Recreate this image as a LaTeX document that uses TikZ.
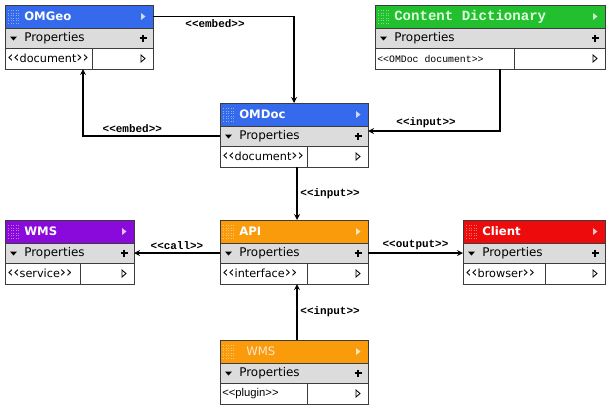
\documentclass[tikz,border=0pt]{standalone}
\usepackage{fontspec}
\setsansfont{DejaVu Sans}
\newfontfamily\monofont{Liberation Mono}
\newfontfamily\plainfont{Liberation Sans}
\usetikzlibrary{calc,arrows}

\definecolor{boxline}{HTML}{3C3C3C}
\definecolor{propgrey}{HTML}{DCDCDC}
\definecolor{omblue}{HTML}{356AEC}
\definecolor{cdgreen}{HTML}{22BF2E}
\definecolor{wmspurple}{HTML}{8A0ADC}
\definecolor{apiorange}{HTML}{F99B0B}
\definecolor{clientred}{HTML}{EE0B0B}

\tikzset{
  boxpart/.style={draw=boxline, line width=0.7pt, inner sep=0pt, outer sep=0pt, anchor=north west},
  headpart/.style={boxpart, minimum height=23*0.025cm},
  proppart/.style={boxpart, fill=propgrey, minimum height=20*0.025cm},
  rowpart/.style={boxpart, fill=white, minimum height=21*0.025cm},
  titletext/.style={anchor=west, inner sep=0pt, text=white, font=\sffamily\bfseries\fontsize{8.3}{9}\selectfont},
  proptext/.style={anchor=west, inner sep=0pt, font=\sffamily\fontsize{8.5}{10}\selectfont},
  rowtext/.style={anchor=west, inner sep=0pt, font=\sffamily\fontsize{8}{9}\selectfont},
  conn/.style={->, line width=0.9pt},
  connlabel/.style={font=\monofont\bfseries\fontsize{7.8}{8}\selectfont, inner sep=2pt}
}

\newcommand{\stereotype}[1]{<\kern0pt<#1>\kern0pt>}
\newcommand{\chevron}[1]{{\fontsize{11}{11}\selectfont ‹‹}#1{\fontsize{11}{11}\selectfont ››}}

% name, x, y, width, colour, title, row text, divider offset
\newcommand{\classbox}[8]{%
  \node[headpart, fill=#5, minimum width=#4*0.025cm] (#1) at (#2,#3) {};
  \node[proppart, minimum width=#4*0.025cm] (#1-p) at (#1.south west) {};
  \node[rowpart, minimum width=#4*0.025cm] (#1-r) at (#1-p.south west) {};
  \foreach \i in {0,...,4}
    \foreach \j in {0,...,5}
      \fill[white, opacity=.45] ($(#1.north west)+(3+2.5*\i,5+2.5*\j)$) rectangle +(1.3,1.3);
  \node[titletext] at ($(#1.west)+(19,0)$) {#6};
  \fill[white, opacity=.75] ($(#1.east)+(-12,-3.5)$) -- ++(4.5,3.5) -- ++(-4.5,3.5) -- cycle;
  \fill ($(#1-p.west)+(5,-1.5)$) -- ++(7,0) -- ++(-3.5,4) -- cycle;
  \node[proptext] at ($(#1-p.west)+(19,0)$) {Properties};
  \draw[line width=1.5pt] ($(#1-p.east)+(-13.5,0)$) -- +(7,0) ($(#1-p.east)+(-10,-3.5)$) -- +(0,7);
  \node[rowtext] at ($(#1-r.west)+(2,0)$) {#7};
  \draw[boxline, line width=0.5pt] ($(#1-r.north east)+(-#8,0)$) -- ($(#1-r.south east)+(-#8,0)$);
  \draw[line width=0.6pt, fill=white] ($(#1-r.east)+(-12,-3.5)$) -- ++(4,3.5) -- ++(-4,3.5) -- cycle;
}

\begin{document}
\begin{tikzpicture}[x=0.025cm,y=-0.025cm,>=stealth]
\useasboundingbox (0,0) rectangle (610,410);

\classbox{omgeo}{5}{5}{148}{omblue}{OMGeo}{\chevron{document}}{61}
\classbox{cd}{375}{5}{230}{cdgreen}{{\monofont\fontsize{10}{10}\selectfont\color{white!88!green}Content Dictionary}}{{\monofont\mdseries\fontsize{7}{8}\selectfont\stereotype{OMDoc document}}}{91}
\classbox{omdoc}{220}{103}{148}{omblue}{OMDoc}{\chevron{document}}{61}
\classbox{wms}{5}{220}{129}{wmspurple}{WMS}{\chevron{service}}{54}
\classbox{api}{220}{220}{148}{apiorange}{API}{\chevron{interface}}{61}
\classbox{client}{463}{220}{142}{clientred}{Client}{\chevron{browser}}{60}
\classbox{wmsplugin}{220}{340}{148}{apiorange}{\mdseries\color{white!80!orange}\hspace{5pt}WMS}{{\plainfont\stereotype{plugin}}}{61}

% connectors
\draw[conn] (omgeo.east) -| node[connlabel, pos=.22, below] {\stereotype{embed}} (omdoc.north);
\draw[conn] (omdoc-p.west) -| node[connlabel, pos=.32, above] {\stereotype{embed}} ($(omgeo-r.south west)+(78,0)$);
\draw[conn] ($(cd-r.south west)+(125,0)$) |- node[connlabel, pos=.78, above] {\stereotype{input}} ($(omdoc-p.north east)+(0,5)$);
\draw[conn] ($(omdoc-r.south)+(3,0)$) -- node[connlabel, right] {\stereotype{input}} ($(api.north)+(3,0)$);
\draw[conn] (api-p.west) -- node[connlabel, above] {\stereotype{call}} (wms-p.east);
\draw[conn] (api-p.east) -- node[connlabel, above] {\stereotype{output}} (client-p.west);
\draw[conn] ($(wmsplugin.north)+(3,0)$) -- node[connlabel, right] {\stereotype{input}} ($(api-r.south)+(3,0)$);
\end{tikzpicture}
\end{document}
